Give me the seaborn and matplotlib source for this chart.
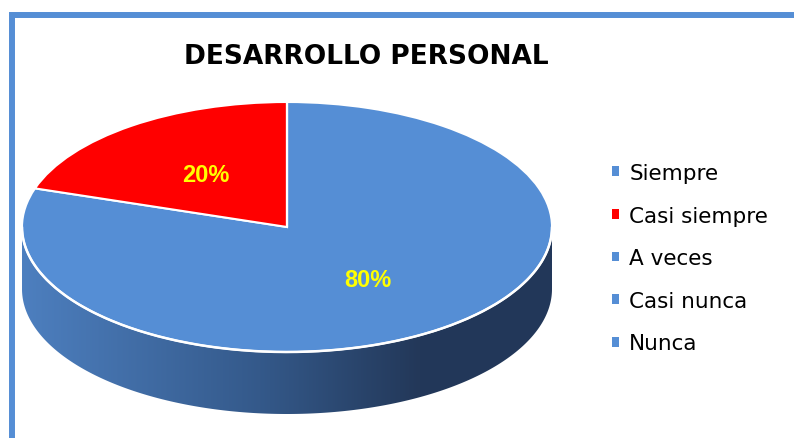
import numpy as np
import matplotlib
matplotlib.use("Agg")
import matplotlib.pyplot as plt
import seaborn as sns
from matplotlib.patches import Polygon, Rectangle
from matplotlib.colors import LinearSegmentedColormap

# ---- data ----
title = "DESARROLLO PERSONAL"
categories = ["Siempre", "Casi siempre", "A veces", "Casi nunca", "Nunca"]
values = [80, 20, 0, 0, 0]
colors = ["#558ED5", "#FF0000", "#558ED5", "#558ED5", "#558ED5"]

sns.set_theme(style="white")
plt.rcParams["font.family"] = ["DejaVu Sans"]

W, H = 794, 439
fig = plt.figure(figsize=(W / 100, H / 100), dpi=100)
fig.patch.set_facecolor("white")

# layout in pixels
cx, cy = 287, 228          # centre of top face
rx, ry = 265, 125          # radii of top face
depth_px = 62
ax_l, ax_r, ax_t, ax_b = 10, 570, 95, 425

ax = fig.add_axes([ax_l / W, (H - ax_b) / H, (ax_r - ax_l) / W, (ax_b - ax_t) / H])

def fmt(p):
    return f"{p:.0f}%" if p > 0.5 else ""

wedges, texts, autotexts = ax.pie(
    values, colors=colors, startangle=90, counterclock=False,
    radius=1.0, autopct=fmt, pctdistance=0.52, labels=categories,
    labeldistance=None,
    wedgeprops=dict(edgecolor="white", linewidth=1.5),
    textprops=dict(color="#FFFF00", fontsize=17, fontweight="bold",
                   family=["Liberation Sans", "DejaVu Sans"]),
)
for w in wedges:
    w.set_zorder(3)
for t in autotexts:
    t.set_zorder(5)

ax.set_aspect("auto")
ax.axis("off")

# side of the 3D pie (front half), with a gradient
d = depth_px / ry
t = np.linspace(np.pi, 2 * np.pi, 300)
top_edge = np.column_stack([np.cos(t), np.sin(t)])
bot_edge = np.column_stack([np.cos(t[::-1]), np.sin(t[::-1]) - d])
side = Polygon(np.vstack([top_edge, bot_edge]), closed=True,
               facecolor="none", edgecolor="none", transform=ax.transData)
ax.add_patch(side)
cmap = LinearSegmentedColormap.from_list(
    "side", [(0.0, "#4D7FBF"), (0.45, "#34598A"), (0.75, "#233859"), (1.0, "#22375A")])
grad = np.linspace(0, 1, 256).reshape(1, -1)
im = ax.imshow(grad, cmap=cmap, aspect="auto", extent=[-1, 1, -1 - d, 0],
               zorder=2, interpolation="bilinear")
im.set_clip_path(side)
# white rim line between top and side
ax.plot(np.cos(t), np.sin(t), color="white", lw=1.8, zorder=4)
ax.set_xlim((ax_l - cx) / rx, (ax_r - cx) / rx)
ax.set_ylim((cy - ax_b) / ry, (cy - ax_t) / ry)

# title
fig.text(366 / W, 1 - 57 / H, title, ha="center", va="center",
         fontsize=19, fontweight="bold", color="black")

# legend
leg = fig.legend(
    handles=wedges, labels=categories, loc="upper left",
    bbox_to_anchor=(612 / W, 1 - 164 / H), frameon=False,
    fontsize=15.5, handlelength=0.33, handleheight=0.33,
    handletextpad=0.47, labelspacing=1.05, borderaxespad=0, borderpad=0,
    labelcolor="black",
)
for h in leg.legend_handles:
    h.set_edgecolor("none")

# blue border frame
border = Rectangle((12 / W, -0.1), 1.2, 1.1 - 16 / H, transform=fig.transFigure,
                   facecolor="none", edgecolor="#558ED5", linewidth=4.3, zorder=10)
fig.patches.append(border)

fig.savefig("out.png", dpi=100, facecolor="white")
